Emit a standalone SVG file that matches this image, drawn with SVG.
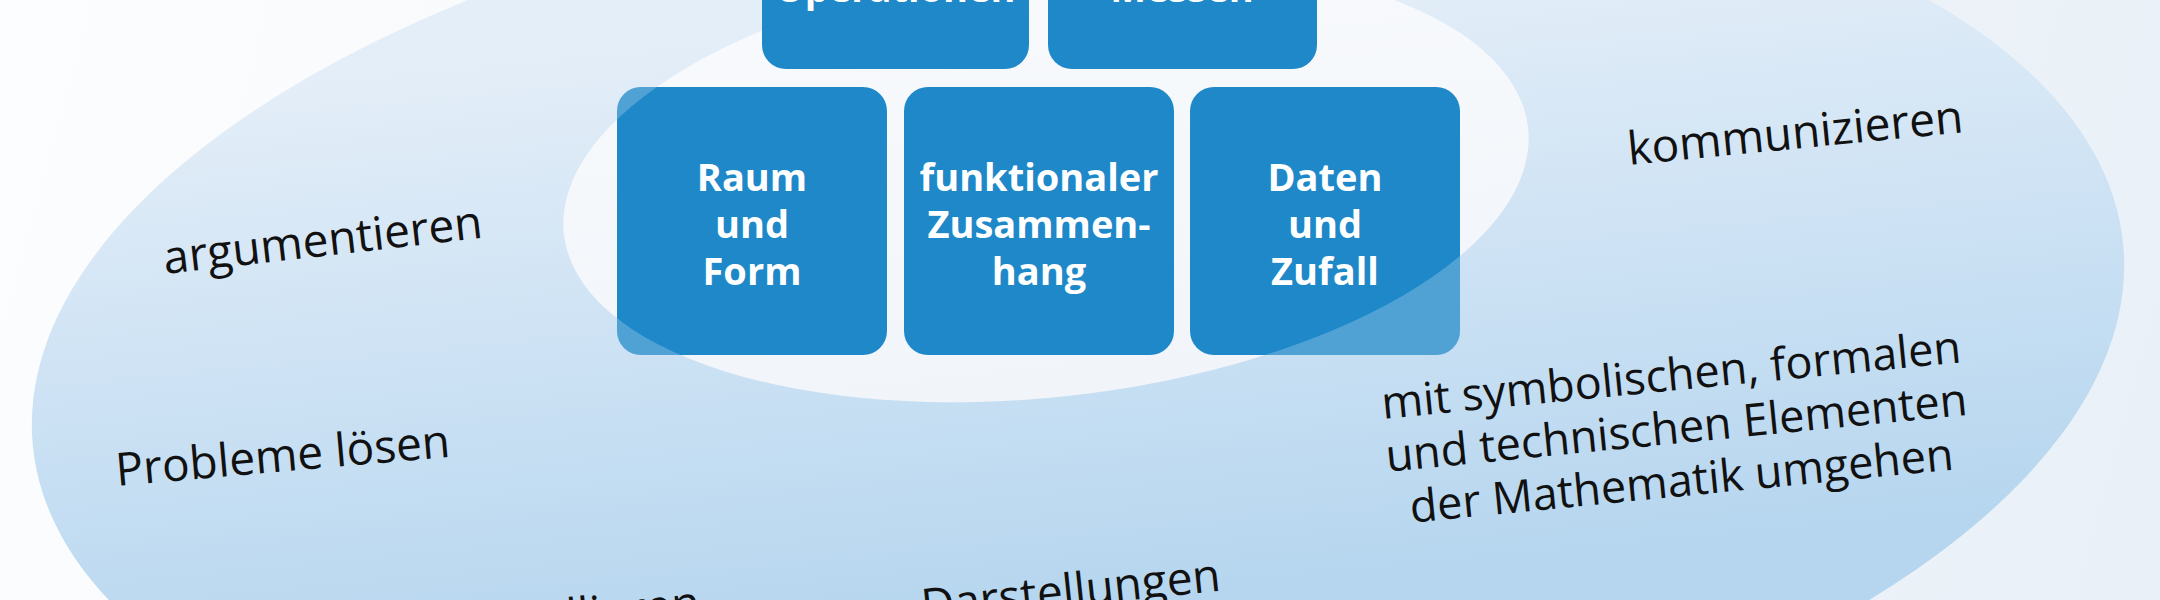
<svg xmlns="http://www.w3.org/2000/svg" width="2160" height="600" viewBox="0 0 2160 600">
  <defs>
    <linearGradient id="bg" x1="0" y1="0" x2="2160" y2="600" gradientUnits="userSpaceOnUse">
      <stop offset="0" stop-color="#fcfdfe"/>
      <stop offset="1" stop-color="#e9f0f7"/>
    </linearGradient>
    <linearGradient id="outerFill" x1="0" y1="0" x2="0" y2="600" gradientUnits="userSpaceOnUse">
      <stop offset="0" stop-color="#e4eef8"/>
      <stop offset="0.5" stop-color="#cde2f4"/>
      <stop offset="1" stop-color="#b6d6ef"/>
    </linearGradient>
    <linearGradient id="innerFill" x1="0" y1="0" x2="0" y2="1">
      <stop offset="0" stop-color="#f8fafd"/>
      <stop offset="1" stop-color="#f1f5f9"/>
    </linearGradient>
    <mask id="outsideInner" maskUnits="userSpaceOnUse" x="0" y="0" width="2160" height="600">
      <rect x="0" y="0" width="2160" height="600" fill="#ffffff"/>
      <ellipse cx="1046" cy="181" rx="485" ry="216" transform="rotate(-6.3 1046 181)" fill="#000000"/>
    </mask>
    <style>
      .box { fill: #1e88c9; }
      .lift { fill: #ffffff; opacity: 0.22; }
      .bt { font-family: "Open Sans", "Liberation Sans", sans-serif; font-weight: 700; font-size: 38px; fill: #ffffff; text-anchor: middle; }
      .lbl { font-family: "Open Sans", "Liberation Sans", sans-serif; font-weight: 400; font-size: 46px; fill: #111111; }
    </style>
  </defs>

  <rect x="0" y="0" width="2160" height="600" fill="url(#bg)"/>
  <ellipse id="outer-ellipse" cx="1078" cy="345" rx="1050" ry="480" transform="rotate(-5.5 1078 345)" fill="url(#outerFill)"/>
  <ellipse id="inner-ellipse" cx="1046" cy="181" rx="485" ry="216" transform="rotate(-6.3 1046 181)" fill="url(#innerFill)"/>

  <g id="node-operationen">
    <rect class="box" x="762" y="-40" width="267" height="109" rx="24"/>
    <text class="bt" x="895" y="2">Operationen</text>
  </g>
  <g id="node-messen">
    <rect class="box" x="1048" y="-40" width="269" height="109" rx="24"/>
    <text class="bt" x="1182" y="2">Messen</text>
  </g>
  <g id="node-raum-und-form">
    <rect class="box" x="617" y="87" width="270" height="268" rx="24"/>
    <rect class="lift" x="617" y="87" width="270" height="268" rx="24" mask="url(#outsideInner)"/>
    <text class="bt" x="752" y="191">Raum</text>
    <text class="bt" x="752" y="238">und</text>
    <text class="bt" x="752" y="285">Form</text>
  </g>
  <g id="node-funktionaler-zusammenhang">
    <rect class="box" x="904" y="87" width="270" height="268" rx="24"/>
    <rect class="lift" x="904" y="87" width="270" height="268" rx="24" mask="url(#outsideInner)"/>
    <text class="bt" x="1039" y="191">funktionaler</text>
    <text class="bt" x="1039" y="238">Zusammen-</text>
    <text class="bt" x="1039" y="285">hang</text>
  </g>
  <g id="node-daten-und-zufall">
    <rect class="box" x="1190" y="87" width="270" height="268" rx="24"/>
    <rect class="lift" x="1190" y="87" width="270" height="268" rx="24" mask="url(#outsideInner)"/>
    <text class="bt" x="1325" y="191">Daten</text>
    <text class="bt" x="1325" y="238">und</text>
    <text class="bt" x="1325" y="285">Zufall</text>
  </g>

  <g id="label-argumentieren">
    <text class="lbl" transform="translate(165 274) rotate(-6.5)">argumentieren</text>
  </g>
  <g id="label-probleme-loesen">
    <text class="lbl" transform="translate(117 486) rotate(-5)">Probleme lösen</text>
  </g>
  <g id="label-kommunizieren">
    <text class="lbl" transform="translate(1629 165) rotate(-5.6)">kommunizieren</text>
  </g>
  <g id="label-symbolisch" transform="translate(1383 419) rotate(-5.6)">
    <text class="lbl" style="font-size:45px;text-anchor:middle" x="291" y="0">mit symbolischen, formalen</text>
    <text class="lbl" style="font-size:45px;text-anchor:middle" x="291" y="53">und technischen Elementen</text>
    <text class="lbl" style="font-size:45px;text-anchor:middle" x="291" y="106">der Mathematik umgehen</text>
  </g>
  <g id="label-darstellungen">
    <text class="lbl" transform="translate(923 622) rotate(-6)">Darstellungen</text>
  </g>
  <g id="label-modellieren">
    <text class="lbl" transform="translate(445 645) rotate(-6)">modellieren</text>
  </g>

  <g id="connectors"/>
</svg>
